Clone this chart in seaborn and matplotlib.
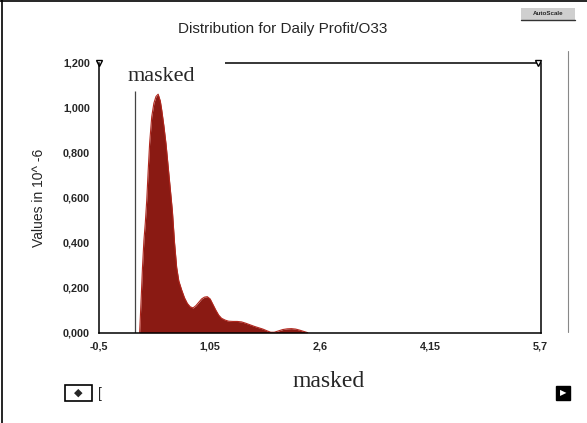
import matplotlib
matplotlib.use("Agg")
import matplotlib.pyplot as plt
import seaborn as sns
import pandas as pd
from matplotlib.lines import Line2D
from matplotlib.patches import Rectangle

# ---- data ----
profit = [0.07, 0.09, 0.11, 0.13, 0.15, 0.17, 0.19, 0.21, 0.24, 0.27, 0.30, 0.33,
          0.36, 0.38, 0.41, 0.44, 0.47, 0.50, 0.53, 0.56, 0.59, 0.62, 0.66, 0.70,
          0.74, 0.78, 0.82, 0.86, 0.90, 0.94, 0.98, 1.02, 1.06, 1.10, 1.14, 1.18,
          1.22, 1.27, 1.32, 1.38, 1.44, 1.50, 1.56, 1.62, 1.68, 1.74, 1.80, 1.86,
          1.91, 1.96, 2.02, 2.08, 2.14, 2.20, 2.26, 2.32, 2.38, 2.43]
density = [0.00, 0.14, 0.29, 0.41, 0.49, 0.59, 0.72, 0.84, 0.96, 1.02, 1.05, 1.06,
           1.03, 0.99, 0.92, 0.84, 0.74, 0.64, 0.54, 0.40, 0.29, 0.23, 0.19, 0.155,
           0.13, 0.115, 0.11, 0.12, 0.135, 0.15, 0.158, 0.16, 0.15, 0.125, 0.10, 0.078,
           0.064, 0.056, 0.051, 0.05, 0.05, 0.048, 0.042, 0.035, 0.028, 0.022, 0.016, 0.008,
           0.002, 0.002, 0.008, 0.014, 0.017, 0.018, 0.016, 0.011, 0.005, 0.0]
x_ticks = [-0.5, 1.05, 2.6, 4.15, 5.7]
x_tick_labels = ["-0,5", "1,05", "2,6", "4,15", "5,7"]
y_ticks = [0.0, 0.2, 0.4, 0.6, 0.8, 1.0, 1.2]
y_tick_labels = ["0,000", "0,200", "0,400", "0,600", "0,800", "1,000", "1,200"]
title = "Distribution for Daily Profit/O33"
y_label = "Values in 10^ -6"
left_delim = 0.0

df = pd.DataFrame({"profit": profit, "density": density})

sns.set_theme(style="white")
plt.rcParams["font.family"] = ["Liberation Sans", "DejaVu Sans"]

fig = plt.figure(figsize=(5.87, 4.23), dpi=100)
ax = fig.add_axes([0.1687, 0.2135, 0.9211 - 0.1687, 0.8518 - 0.2135])

fill_col = "#8a1a13"
edge_col = "#b0261d"
sns.lineplot(data=df, x="profit", y="density", ax=ax, color=edge_col, lw=0.8)
ax.fill_between(df["profit"], 0, df["density"], color=fill_col, lw=0)

ax.set_xlim(-0.5, 5.7)
ax.set_ylim(0, 1.2)
ax.set_xticks(x_ticks)
ax.set_xticklabels(x_tick_labels)
ax.set_yticks(y_ticks)
ax.set_yticklabels(y_tick_labels)
ax.tick_params(axis="both", direction="inout", length=7, width=1, color="black",
               labelsize=7.8, pad=3)
for lab in ax.get_xticklabels() + ax.get_yticklabels():
    lab.set_fontweight("bold")
ax.set_xlabel("")
ax.set_ylabel(y_label, fontsize=10, labelpad=12)

for s in ["left", "bottom", "right"]:
    ax.spines[s].set_visible(True)
    ax.spines[s].set_color("black")
    ax.spines[s].set_linewidth(1.1)
ax.spines["top"].set_visible(False)
ax.grid(False)

# left delimiter line and top delimiter bar
ax.vlines(left_delim, 0, 1.075, color="#444444", lw=0.9)
ax.hlines(1.2, 1.27, 5.66, color="black", lw=1.1, clip_on=False)
ax.plot([5.66], [1.2], marker="v", ms=4, color="black", mfc="white", clip_on=False)
ax.plot([-0.5], [1.2], marker="v", ms=4, color="black", mfc="white", clip_on=False)

ax.text(-0.1, 1.14, "masked", fontsize=16, family="Liberation Serif", va="center",
        ha="left")

fig.text(0.482, 0.932, title, fontsize=11, ha="center", va="center")
fig.text(0.56, 0.098, "masked", fontsize=17, family="Liberation Serif",
         ha="center", va="center")

# frame / UI decorations
fig.add_artist(Line2D([0.004, 0.004], [0, 1], color="black", lw=1.2))
fig.add_artist(Line2D([0, 1], [0.998, 0.998], color="black", lw=1.2))
fig.add_artist(Line2D([0.967, 0.967], [0.215, 0.88], color="#888888", lw=0.8))
fig.add_artist(Rectangle((0.888, 0.953), 0.092, 0.028, facecolor="#cfcfcf",
                         edgecolor="none"))
fig.add_artist(Line2D([0.888, 0.98], [0.953, 0.953], color="#333333", lw=1.0))
fig.text(0.934, 0.967, "AutoScale", fontsize=4.5, fontweight="bold",
         ha="center", va="center")
fig.add_artist(Rectangle((0.111, 0.053), 0.045, 0.036, facecolor="white",
                         edgecolor="black", lw=1.2))
fig.text(0.1335, 0.071, "◆", fontsize=8, ha="center", va="center",
         family="DejaVu Sans")
fig.text(0.17, 0.069, "[", fontsize=10, ha="center", va="center")
fig.add_artist(Rectangle((0.947, 0.055), 0.024, 0.032, facecolor="black",
                         edgecolor="black", lw=1.0))
fig.text(0.959, 0.071, "▶", fontsize=6, color="white", ha="center", va="center",
         family="DejaVu Sans")

fig.savefig("out.png", dpi=100)
